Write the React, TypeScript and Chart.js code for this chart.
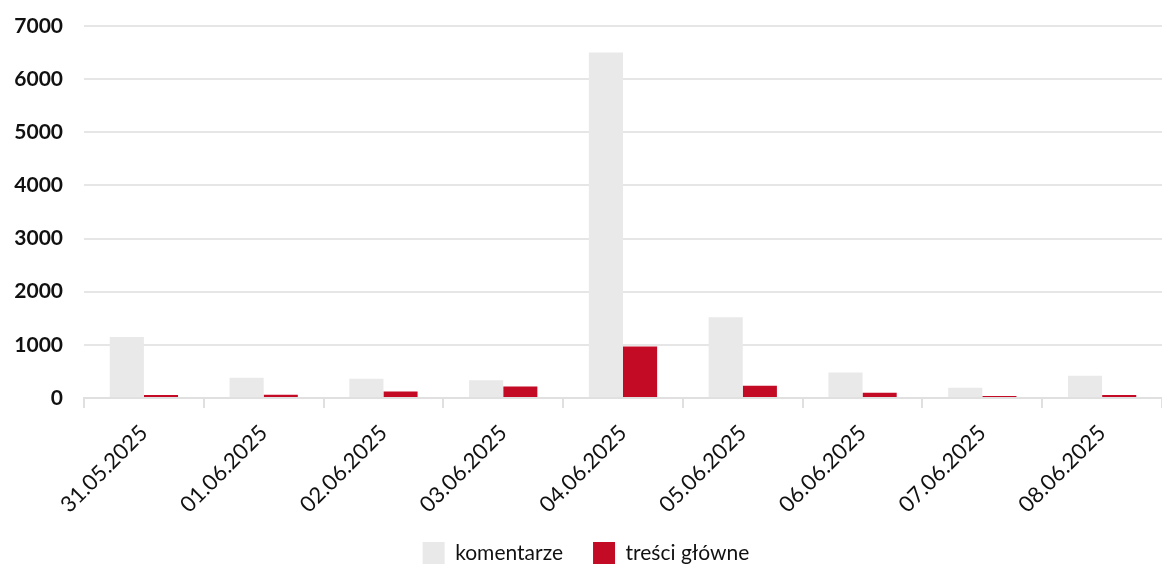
import React, { useEffect, useRef } from "react";
import { Chart, registerables } from "chart.js";

Chart.register(...registerables);

const categories = ["31.05.2025", "01.06.2025", "02.06.2025", "03.06.2025", "04.06.2025", "05.06.2025", "06.06.2025", "07.06.2025", "08.06.2025"];
const komentarze = [1150, 380, 360, 335, 6500, 1520, 480, 195, 420];
const tresciGlowne = [55, 60, 120, 215, 970, 230, 100, 38, 57];
const yTicks = [0, 1000, 2000, 3000, 4000, 5000, 6000, 7000];

export default function App() {
  const ref = useRef<HTMLCanvasElement | null>(null);
  useEffect(() => {
    if (!ref.current) return;
    const chart = new Chart(ref.current, {
      type: "bar",
      data: {
        labels: categories,
        datasets: [
          { label: "komentarze", data: komentarze, backgroundColor: "#e9e9e9", borderWidth: 0 },
          { label: "treści główne", data: tresciGlowne, backgroundColor: "#c30b25", borderWidth: 0 },
        ],
      },
      options: {
        responsive: true,
        maintainAspectRatio: false,
        animation: false,
        datasets: { bar: { categoryPercentage: 0.57, barPercentage: 1 } },
        layout: { padding: { left: 10, right: 0, top: 26, bottom: -8 } },
        plugins: {
          legend: {
            position: "bottom",
            labels: {
              boxWidth: 22,
              boxHeight: 22,
              padding: 30,
              color: "#111",
              font: { family: "Lato", size: 21 },
            },
          },
          tooltip: { enabled: false },
        },
        scales: {
          x: {
            afterFit: (axis: any) => {
              axis.paddingLeft = 0;
              axis.paddingRight = 0;
              axis.height = 114;
            },
            grid: { display: true, drawOnChartArea: false, color: "#e0e0e0", lineWidth: 2, tickLength: 10 },
            border: { display: true, color: "#e0e0e0", width: 2 },
            ticks: {
              minRotation: 45,
              maxRotation: 45,
              color: "#111",
              font: { family: "Lato", size: 22 },
              padding: 12,
            },
          },
          y: {
            min: 0,
            max: 7000,
            afterBuildTicks: (axis: any) => {
              axis.ticks = yTicks.map((v) => ({ value: v }));
            },
            afterFit: (axis: any) => {
              axis.width = 74;
              axis.paddingTop = 0;
            },
            grid: { color: "#e6e6e6", lineWidth: 2, drawTicks: false },
            border: { display: false },
            ticks: {
              color: "#111",
              padding: 21,
              callback: (v: any) => String(v),
              font: { family: "Lato", size: 21, weight: "bold" },
            },
          },
        },
      },
    });
    return () => chart.destroy();
  }, []);
  return (
    <div style={{ position: "fixed", left: 0, top: 0, width: 1162, height: 566, background: "#fff" }}>
      <canvas ref={ref} />
    </div>
  );
}
